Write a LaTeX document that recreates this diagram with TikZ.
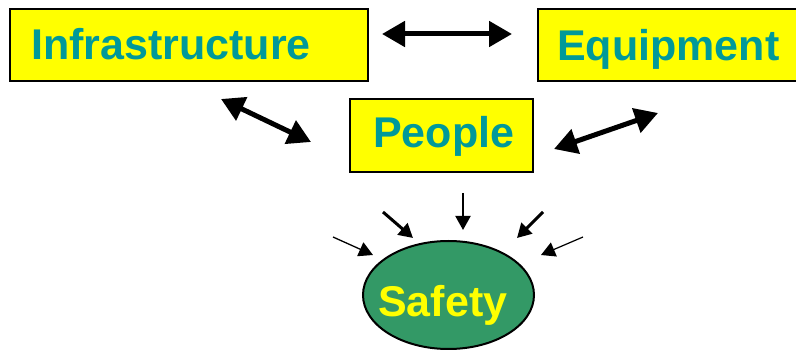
\documentclass[tikz,border=0pt]{standalone}
\usepackage{fontspec}
\setmainfont{Liberation Sans}
\usetikzlibrary{arrows.meta,shapes.geometric}
\definecolor{boxyellow}{HTML}{FFFF00}
\definecolor{tealtext}{HTML}{009999}
\definecolor{safegreen}{HTML}{339966}
\begin{document}
\begin{tikzpicture}[x=1pt,y=-1pt,
  boxstyle/.style={draw=black,line width=2pt,fill=boxyellow,inner sep=0pt},
  boxtext/.style={anchor=base west,inner sep=0pt,text=tealtext,font=\fontsize{43}{48}\selectfont\bfseries},
  bigarrow/.style={line width=5pt,{Triangle[length=23pt,width=25pt]}-{Triangle[length=23pt,width=25pt]}},
  smallarrow/.style={-{Triangle[length=14pt,width=15pt]}}
]
\useasboundingbox (0,0) rectangle (796,350);
% boxes
\draw[boxstyle] (10,9) rectangle (368,81);
\draw[boxstyle] (538,9) rectangle (800,81);
\draw[boxstyle] (350,99) rectangle (533,172);
\node[boxtext] (infra) at (31,60) {Infrastructure};
\node[boxtext] (equip) at (557,61) {Equipment};
\node[boxtext] (people) at (373,148) {People};
% safety
\node[draw=black,line width=2pt,fill=safegreen,ellipse,minimum width=171pt,minimum height=108pt,inner sep=0pt] (safety) at (448.5,295) {};
\node[anchor=base west,inner sep=0pt,text=boxyellow,font=\fontsize{43}{48}\selectfont\bfseries] (safetytext) at (378,316) {Safety};
% big arrows
\coordinate (h1) at (382,34);
\coordinate (h2) at (512,34);
\coordinate (d1) at (221,99);
\coordinate (d2) at (311,142);
\coordinate (e1) at (554,149);
\coordinate (e2) at (658,113);
\draw[bigarrow] (h1) -- (h2);
\draw[bigarrow] (d1) -- (d2);
\draw[bigarrow] (e1) -- (e2);
% small arrows
\coordinate (s1a) at (333,237);
\coordinate (s1b) at (373,255);
\coordinate (s2a) at (383,212);
\coordinate (s2b) at (413,238);
\coordinate (s3a) at (463,193);
\coordinate (s3b) at (463,230);
\coordinate (s4a) at (543,212);
\coordinate (s4b) at (517,238);
\coordinate (s5a) at (583,237);
\coordinate (s5b) at (541,255);
\draw[smallarrow,line width=1.3pt] (s1a) -- (s1b);
\draw[smallarrow,line width=3pt] (s2a) -- (s2b);
\draw[smallarrow,line width=2pt] (s3a) -- (s3b);
\draw[smallarrow,line width=3pt] (s4a) -- (s4b);
\draw[smallarrow,line width=1.2pt] (s5a) -- (s5b);
\end{tikzpicture}
\end{document}
